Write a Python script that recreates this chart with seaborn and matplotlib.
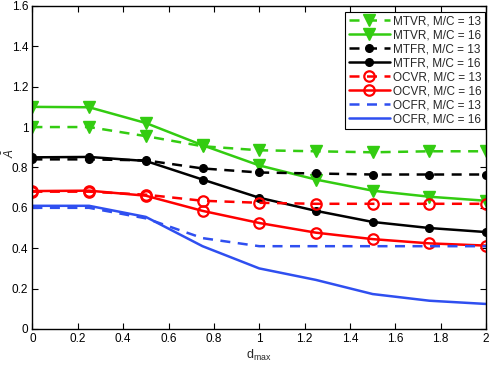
import matplotlib
matplotlib.use("Agg")
import matplotlib.pyplot as plt
import seaborn as sns
import pandas as pd
from matplotlib.ticker import FuncFormatter, MultipleLocator

d_max = [0, 0.25, 0.5, 0.75, 1.0, 1.25, 1.5, 1.75, 2.0]

mtvr_13 = [1.00, 1.00, 0.955, 0.905, 0.885, 0.88, 0.875, 0.88, 0.88]
mtvr_16 = [1.10, 1.098, 1.02, 0.91, 0.81, 0.74, 0.685, 0.655, 0.635]
mtfr_13 = [0.84, 0.84, 0.835, 0.795, 0.775, 0.77, 0.765, 0.765, 0.765]
mtfr_16 = [0.85, 0.852, 0.832, 0.74, 0.65, 0.585, 0.53, 0.50, 0.48]
ocvr_13 = [0.68, 0.68, 0.665, 0.635, 0.625, 0.62, 0.62, 0.62, 0.62]
ocvr_16 = [0.683, 0.685, 0.66, 0.585, 0.525, 0.477, 0.445, 0.424, 0.413]
ocfr_13 = [0.60, 0.60, 0.548, 0.45, 0.41, 0.41, 0.41, 0.41, 0.41]
ocfr_16 = [0.61, 0.61, 0.555, 0.41, 0.30, 0.243, 0.173, 0.14, 0.124]

labels = ["MTVR, M/C = 13", "MTVR, M/C = 16", "MTFR, M/C = 13", "MTFR, M/C = 16",
          "OCVR, M/C = 13", "OCVR, M/C = 16", "OCFR, M/C = 13", "OCFR, M/C = 16"]
series = [mtvr_13, mtvr_16, mtfr_13, mtfr_16, ocvr_13, ocvr_16, ocfr_13, ocfr_16]

green = "#33cc11"
red = "#ff0000"
blue = "#2f4ff0"
black = "#000000"
styles = [
    dict(color=green, ls="--", marker="v", ms=8, mfc=green, mec=green, mew=1.0),
    dict(color=green, ls="-", marker="v", ms=8, mfc=green, mec=green, mew=1.0),
    dict(color=black, ls="--", marker="o", ms=5.5, mfc=black, mec=black, mew=1.0),
    dict(color=black, ls="-", marker="o", ms=5.5, mfc=black, mec=black, mew=1.0),
    dict(color=red, ls="--", marker="o", ms=7.5, mfc="none", mec=red, mew=1.6),
    dict(color=red, ls="-", marker="o", ms=7.5, mfc="none", mec=red, mew=1.6),
    dict(color=blue, ls="--", marker=None, ms=0, mfc=blue, mec=blue, mew=1.0),
    dict(color=blue, ls="-", marker=None, ms=0, mfc=blue, mec=blue, mew=1.0),
]

sns.set_style("white")
plt.rcParams["font.family"] = ["Liberation Sans", "DejaVu Sans"]
plt.rcParams["mathtext.fontset"] = "custom"
plt.rcParams["mathtext.rm"] = "Liberation Sans"
plt.rcParams["mathtext.it"] = "Liberation Sans:italic"

fig = plt.figure(figsize=(4.91, 3.68), dpi=100)
ax = fig.add_axes([0.066, 0.106, 0.924, 0.878])

for lab, ys, st in zip(labels, series, styles):
    df = pd.DataFrame({"x": d_max, "y": ys})
    sns.lineplot(data=df, x="x", y="y", ax=ax, color=st["color"], linestyle=st["ls"],
                 linewidth=1.8, marker=st["marker"], markersize=st["ms"],
                 markerfacecolor=st["mfc"], markeredgecolor=st["mec"],
                 markeredgewidth=st["mew"], label=lab, dashes=False)
    ax.lines[-1].set_linestyle(st["ls"])
    if st["ls"] == "--":
        ax.lines[-1].set_dashes([4, 3])

ax.set_xlim(0, 2)
ax.set_ylim(0, 1.6)
ax.xaxis.set_major_locator(MultipleLocator(0.2))
ax.yaxis.set_major_locator(MultipleLocator(0.2))
fmt = FuncFormatter(lambda v, p: "%g" % round(v, 2))
ax.xaxis.set_major_formatter(fmt)
ax.yaxis.set_major_formatter(fmt)
ax.tick_params(direction="in", length=4, width=0.8, labelsize=8.5, top=True, right=True,
               bottom=True, left=True, pad=3, colors="black")
for sp in ax.spines.values():
    sp.set_visible(True)
    sp.set_color("black")
    sp.set_linewidth(1.0)

ax.set_xlabel(r"d$_{\mathrm{max}}$", fontsize=9, labelpad=2)
ax.set_ylabel(r"$\bar{A}$", fontsize=8.5)
ax.yaxis.set_label_coords(-0.034, 0.545)

leg = ax.legend(loc="upper right", bbox_to_anchor=(0.998, 0.981), fontsize=8.5,
                frameon=True, fancybox=False, edgecolor="black", framealpha=1,
                handlelength=3.5, handletextpad=0.25, borderpad=0.3,
                labelspacing=0.17, borderaxespad=0.0)
leg.get_frame().set_linewidth(0.8)
for h in leg.get_lines():
    if h.get_linestyle() == "--":
        h.set_dashes([4, 3])

fig.savefig("out.png", dpi=100)
